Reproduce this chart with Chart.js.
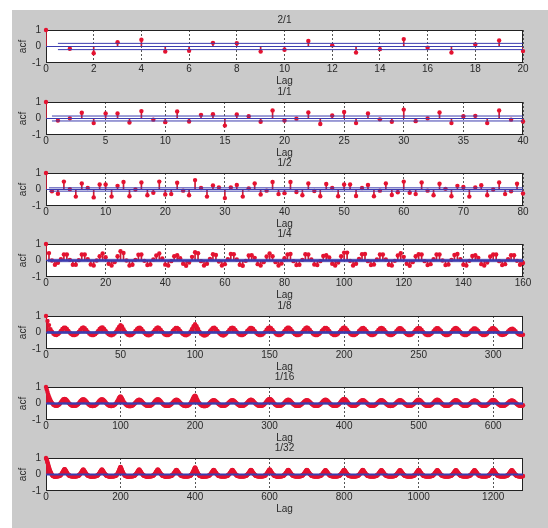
<!DOCTYPE html>
<html><head><meta charset="utf-8">
<script src="https://cdn.jsdelivr.net/npm/chart.js@4/dist/chart.umd.min.js"></script>
<style>
html,body{margin:0;padding:0;background:#fff;width:548px;height:528px;overflow:hidden;position:relative;}
#fig{position:absolute;left:12px;top:10px;width:536px;height:518px;background:#cacaca;}
canvas{position:absolute;left:0;}
</style></head><body>
<div id="fig"></div>
<script>
// ---- data (acf values in hundredths) ----
const titles = ['2/1','1/1','1/2','1/4','1/8','1/16','1/32'];
const maxLags = [20,40,80,160,320,640,1280];
const tickSteps = [2,5,10,20,50,100,200];
const confBounds = [19,15,10,7,5,4,3];

const acf_2_1 = [100,-14,-41,26,41,-31,-26,22,20,-31,-20,33,7,-37,-16,45,-7,-37,12,37,-28];

const acf_1_1 = [100,-12,1,35,-28,30,30,-24,45,-7,-22,43,-18,22,26,-43,24,14,-20,49,-12,-1,37,-33,18,39,-28,30,-5,-20,54,-16,1,37,-28,14,16,-28,49,-7,-18];

const acf_1_2 = [100,-11,-26,48,2,-43,37,9,-48,30,
30,-43,22,46,-41,0,43,-35,-20,48,
-30,-28,41,-7,-35,57,9,-43,24,13,
-52,13,28,-43,7,37,-30,-7,46,-28,
-22,46,-15,-35,37,-9,-41,33,9,-41,
30,30,-39,9,28,-41,-7,37,-33,-17,
48,-20,-28,43,-7,-35,35,4,-41,22,
15,-43,13,26,-35,0,43,-28,-11,35,
-24];

const acf_1_4 = [100,45,0,-26,-14,8,37,36,4,-26,-26,2,36,36,8,-24,-30,0,26,42,20,-20,-30,-10,26,
56,46,0,-30,-26,4,35,36,-2,-28,-24,6,30,43,12,-25,-30,-4,26,32,14,-20,-32,-12,22,
50,44,-4,-30,-20,10,38,34,-6,-30,-22,8,40,38,6,-26,-32,-2,30,32,16,-22,-30,-10,24,
42,26,-10,-30,-18,14,36,40,-4,-28,-26,4,38,36,6,-24,-28,-4,28,32,18,-20,-30,-12,26,
48,48,-2,-30,-20,10,38,40,-4,-28,-24,6,36,36,6,-26,-30,-2,30,44,22,-20,-32,-10,26,
38,36,-4,-28,-22,8,36,36,0,-28,-24,4,34,40,8,-26,-30,-2,28,32,16,-22,-30,-12,24,
36,36,-4,-28,-22,8,32,32,-2,-26,-15];

const acf_1_8 = [100,70,45,20,5,-8,-14,-15,-10,-1,10,21,29,29,21,10,-1,-10,-15,-16,-13,-6,4,16,26,
30,26,16,4,-6,-13,-16,-15,-10,-1,10,21,29,30,22,10,-1,-10,-15,-17,-13,-6,5,20,34,
45,36,20,5,-6,-14,-17,-16,-11,-2,9,20,28,29,21,10,-1,-10,-16,-17,-13,-6,4,16,26,
30,26,16,4,-6,-13,-16,-15,-10,-2,9,19,27,28,21,10,-1,-10,-15,-17,-13,-6,6,22,38,
50,38,21,5,-7,-14,-18,-17,-12,-3,8,19,28,29,21,10,-1,-11,-16,-18,-14,-6,4,16,26,
29,26,16,4,-6,-13,-16,-15,-10,-2,9,19,27,28,21,10,-1,-10,-15,-16,-13,-6,4,17,27,
30,26,16,4,-6,-13,-16,-15,-10,-1,10,21,29,29,21,10,-1,-10,-15,-16,-13,-6,4,16,26,
30,26,16,4,-6,-13,-16,-15,-10,-2,9,19,27,28,21,10,-1,-10,-15,-16,-13,-6,4,16,26,
31,26,16,4,-6,-13,-16,-15,-10,-2,9,18,26,27,20,9,-1,-10,-15,-16,-13,-6,4,15,24,
28,24,15,3,-6,-13,-16,-15,-10,-2,8,18,26,26,19,9,-2,-10,-15,-16,-13,-6,4,16,25,
28,24,15,3,-6,-13,-16,-15,-10,-2,8,18,26,26,19,9,-2,-10,-15,-16,-13,-6,3,15,24,
27,23,14,3,-6,-13,-16,-15,-10,-2,8,17,24,25,19,9,-2,-10,-15,-16,-13,-6,3,15,24,
27,23,14,3,-6,-13,-15,-14,-10,-2,7,16,22,23,17,8,-2,-10,-14,-15,-13];

const acf_1_16 = [100,85,70,55,41,30,20,11,4,-2,-7,-10,-12,-13,-14,-13,-11,-8,-4,1,7,13,19,24,26,
27,26,23,18,12,6,1,-4,-8,-11,-13,-14,-14,-14,-14,-13,-11,-8,-4,1,6,12,17,21,24,
25,24,21,17,12,6,1,-4,-8,-11,-13,-14,-15,-15,-14,-13,-11,-8,-4,1,6,12,17,21,24,
25,24,21,17,12,6,1,-4,-8,-11,-13,-14,-15,-15,-14,-13,-11,-8,-4,1,8,16,25,34,39,
42,38,30,21,12,5,0,-5,-9,-12,-14,-15,-16,-16,-15,-14,-12,-9,-5,0,5,10,15,19,22,
23,22,19,15,10,5,0,-4,-8,-11,-13,-14,-14,-14,-14,-13,-11,-8,-4,1,6,12,17,21,24,
25,24,21,17,12,6,1,-4,-8,-11,-13,-14,-14,-14,-14,-13,-11,-8,-4,0,5,10,15,19,22,
23,22,19,15,10,5,0,-4,-8,-11,-13,-14,-15,-15,-14,-13,-11,-8,-4,2,10,19,29,38,45,
48,42,32,22,13,5,0,-5,-9,-12,-14,-15,-16,-16,-15,-14,-12,-9,-5,0,4,9,13,17,19,
20,19,17,13,9,4,0,-4,-8,-11,-13,-14,-14,-14,-14,-13,-11,-8,-4,0,4,9,13,17,19,
20,19,17,13,9,4,0,-4,-8,-11,-13,-14,-14,-14,-14,-13,-11,-8,-4,0,5,10,15,19,22,
23,22,19,15,10,5,0,-4,-8,-11,-13,-14,-14,-14,-14,-13,-11,-8,-4,1,7,13,19,23,26,
27,26,23,18,12,6,1,-4,-8,-11,-13,-14,-14,-14,-14,-13,-11,-8,-4,0,5,10,15,19,22,
23,22,19,15,10,5,0,-4,-8,-11,-13,-14,-14,-14,-14,-13,-11,-8,-4,0,4,9,13,17,19,
20,19,17,13,9,4,0,-4,-8,-11,-13,-14,-14,-14,-14,-13,-11,-8,-4,0,5,10,15,19,22,
23,22,19,15,10,5,0,-4,-8,-11,-13,-14,-14,-14,-14,-13,-11,-8,-4,1,7,13,19,23,26,
27,26,23,18,12,6,1,-4,-8,-11,-13,-14,-14,-14,-14,-13,-11,-8,-4,0,4,9,13,17,19,
20,19,17,13,9,4,0,-4,-8,-11,-13,-14,-14,-14,-14,-13,-11,-8,-4,0,4,9,13,17,19,
20,19,17,13,9,4,0,-4,-8,-11,-13,-14,-15,-14,-14,-13,-11,-8,-4,0,4,9,13,17,19,
20,19,17,13,9,4,0,-4,-8,-11,-13,-14,-14,-14,-14,-13,-11,-8,-4,0,5,10,15,19,22,
23,22,19,15,10,5,0,-4,-8,-11,-13,-14,-14,-14,-14,-13,-11,-8,-4,0,5,10,15,19,22,
23,22,19,15,10,5,0,-4,-8,-11,-13,-14,-14,-14,-14,-13,-11,-8,-4,0,4,9,13,17,19,
20,19,17,13,9,4,0,-4,-8,-11,-13,-14,-14,-14,-14,-13,-11,-8,-4,0,4,8,12,15,17,
18,17,15,12,8,4,0,-4,-8,-11,-13,-14,-14,-14,-14,-13,-11,-8,-4,0,4,9,14,18,20,
21,20,18,14,9,4,0,-4,-8,-11,-13,-14,-14,-14,-14,-13,-11,-8,-4,0,4,8,12,15,17,
18,17,15,12,8,4,0,-4,-8,-11,-13,-14,-14,-14,-13,-11];

const acf_1_32 = [
100,95,90,82,74,66,58,50,42,35,28,22,16,11,6,2,-2,-5,-7,-9,-10,-11,-11,-12,-12,-11,-11,-11,-11,-11,-11,-11,-10,-10,-10,-9,-8,-7,-6,-4,-2,1,4,7,11,15,19,23,27,30,
32,30,27,23,19,15,11,7,4,1,-2,-4,-6,-7,-8,-9,-10,-10,-10,-11,-11,-11,-11,-11,-11,-11,-11,-11,-11,-11,-11,-11,-10,-10,-10,-9,-8,-7,-6,-4,-2,1,4,7,10,14,17,21,25,28,
30,28,25,21,17,14,10,7,4,1,-2,-4,-6,-7,-8,-9,-10,-10,-11,-11,-11,-12,-12,-11,-11,-11,-11,-11,-11,-11,-11,-11,-10,-10,-10,-9,-8,-7,-6,-4,-2,1,4,7,10,14,17,21,25,28,
30,28,25,21,17,14,10,7,4,1,-2,-4,-6,-7,-8,-9,-10,-10,-11,-11,-11,-12,-12,-11,-11,-11,-11,-11,-11,-11,-11,-11,-10,-10,-10,-9,-8,-7,-6,-4,-2,1,5,9,14,19,25,31,37,42,
46,42,37,31,25,19,14,9,5,1,-2,-5,-7,-8,-9,-10,-10,-11,-11,-11,-12,-12,-12,-11,-11,-11,-11,-11,-11,-11,-11,-11,-10,-10,-10,-9,-8,-7,-6,-4,-2,1,4,7,10,14,17,21,25,28,
30,28,25,21,17,14,10,7,4,1,-2,-4,-6,-7,-8,-9,-10,-10,-11,-11,-11,-12,-12,-11,-11,-11,-11,-11,-11,-11,-11,-11,-10,-10,-10,-9,-8,-7,-6,-4,-2,1,4,7,10,14,17,21,25,28,
30,28,25,21,17,14,10,7,4,1,-2,-4,-6,-7,-8,-9,-10,-10,-11,-11,-11,-12,-12,-11,-11,-11,-11,-11,-11,-11,-11,-11,-10,-10,-10,-9,-8,-7,-6,-4,-2,1,3,6,9,13,16,20,23,26,
28,26,23,20,16,13,9,6,3,1,-2,-4,-6,-7,-8,-9,-10,-10,-10,-11,-11,-11,-11,-11,-11,-11,-11,-11,-11,-11,-11,-11,-10,-10,-10,-9,-8,-7,-6,-4,-2,1,5,9,13,18,23,28,34,39,
42,39,34,28,23,18,13,9,5,1,-2,-5,-7,-8,-9,-10,-10,-11,-11,-11,-12,-12,-12,-11,-11,-11,-11,-11,-11,-11,-11,-11,-10,-10,-10,-9,-8,-7,-6,-4,-2,1,3,6,9,13,16,20,23,26,
28,26,23,20,16,13,9,6,3,1,-2,-4,-6,-7,-8,-9,-10,-10,-10,-11,-11,-11,-11,-11,-11,-11,-11,-11,-11,-11,-11,-11,-10,-10,-10,-9,-8,-7,-6,-4,-2,1,3,6,9,13,16,20,23,26,
28,26,23,20,16,13,9,6,3,1,-2,-4,-6,-7,-8,-9,-10,-10,-10,-11,-11,-11,-11,-11,-11,-11,-11,-11,-11,-11,-11,-11,-10,-10,-10,-9,-8,-7,-6,-4,-2,1,3,6,9,13,16,20,23,26,
28,26,23,20,16,13,9,6,3,1,-2,-4,-6,-7,-8,-9,-10,-10,-10,-11,-11,-11,-11,-11,-11,-11,-11,-11,-11,-11,-11,-11,-10,-10,-10,-9,-8,-7,-6,-4,-2,1,4,7,10,14,17,21,25,28,
30,28,25,21,17,14,10,7,4,1,-2,-4,-6,-7,-8,-9,-10,-10,-11,-11,-11,-12,-12,-11,-11,-11,-11,-11,-11,-11,-11,-11,-10,-10,-10,-9,-8,-7,-6,-4,-2,1,3,6,9,13,16,20,23,26,
28,26,23,20,16,13,9,6,3,1,-2,-4,-6,-7,-8,-9,-10,-10,-10,-11,-11,-11,-11,-11,-11,-11,-11,-11,-11,-11,-11,-11,-10,-10,-10,-9,-8,-7,-6,-4,-2,1,3,6,9,13,16,20,23,26,
28,26,23,20,16,13,9,6,3,1,-2,-4,-6,-7,-8,-9,-10,-10,-10,-11,-11,-11,-11,-11,-11,-11,-11,-11,-11,-11,-11,-11,-10,-10,-10,-9,-8,-7,-6,-4,-2,0,3,6,9,12,15,19,22,24,
26,24,22,19,15,12,9,6,3,0,-2,-4,-6,-7,-8,-9,-10,-10,-10,-11,-11,-11,-11,-11,-11,-11,-11,-11,-11,-11,-11,-11,-10,-10,-10,-9,-8,-7,-6,-4,-2,1,3,6,9,13,16,20,23,26,
28,26,23,20,16,13,9,6,3,1,-2,-4,-6,-7,-8,-9,-10,-10,-10,-11,-11,-11,-11,-11,-11,-11,-11,-11,-11,-11,-11,-11,-10,-10,-10,-9,-8,-7,-6,-4,-2,1,3,6,9,13,16,20,23,26,
28,26,23,20,16,13,9,6,3,1,-2,-4,-6,-7,-8,-9,-10,-10,-10,-11,-11,-11,-11,-11,-11,-11,-11,-11,-11,-11,-11,-11,-10,-10,-10,-9,-8,-7,-6,-4,-2,0,3,6,9,12,15,19,22,24,
26,24,22,19,15,12,9,6,3,0,-2,-4,-6,-7,-8,-9,-10,-10,-10,-11,-11,-11,-11,-11,-11,-11,-11,-11,-11,-11,-11,-11,-10,-10,-10,-9,-8,-7,-6,-4,-2,0,3,6,9,12,15,19,22,24,
26,24,22,19,15,12,9,6,3,0,-2,-4,-6,-7,-8,-9,-10,-10,-10,-11,-11,-11,-11,-11,-11,-11,-11,-11,-11,-11,-11,-11,-10,-10,-10,-9,-8,-7,-6,-4,-2,1,3,6,9,13,16,20,23,26,
28,26,23,20,16,13,9,6,3,1,-2,-4,-6,-7,-8,-9,-10,-10,-10,-11,-11,-11,-11,-11,-11,-11,-11,-11,-11,-11,-11,-11,-10,-10,-10,-9,-8,-7,-6,-4,-2,0,3,6,9,12,15,19,22,24,
26,24,22,19,15,12,9,6,3,0,-2,-4,-6,-7,-8,-9,-10,-10,-10,-11,-11,-11,-11,-11,-11,-11,-11,-11,-11,-11,-11,-11,-10,-10,-10,-9,-8,-7,-6,-4,-2,0,3,6,9,12,15,19,22,24,
26,24,22,19,15,12,9,6,3,0,-2,-4,-6,-7,-8,-9,-10,-10,-10,-11,-11,-11,-11,-11,-11,-11,-11,-11,-11,-11,-11,-11,-10,-10,-10,-9,-8,-7,-6,-4,-2,0,3,6,9,12,15,19,22,24,
26,24,22,19,15,12,9,6,3,0,-2,-4,-6,-7,-8,-9,-10,-10,-10,-11,-11,-11,-11,-11,-11,-11,-11,-11,-11,-11,-11,-11,-10,-10,-10,-9,-8,-7,-6,-4,-2,1,3,6,9,13,16,20,23,26,
28,26,23,20,16,13,9,6,3,1,-2,-4,-6,-7,-8,-9,-10,-10,-10,-11,-11,-11,-11,-11,-11,-11,-11,-11,-11,-11,-11,-11,-10,-10,-10,-9,-8,-7,-6,-4,-2,0,3,6,9,12,15,19,22,24,
26,24,22,19,15,12,9,6,3,0,-2,-4,-6,-7,-8,-9,-10,-10,-10,-11,-11,-11,-11,-11,-11,-11,-11,-11,-11,-10,-9];

const series = [acf_2_1, acf_1_1, acf_1_2, acf_1_4, acf_1_8, acf_1_16, acf_1_32];

// ---- layout / style ----
const plotTops = [30,102,173,244,316,387,458];
const TITLE_H = 22, PLOT_H = 33, XAX_H = 24, YAX_W = 46, PLOT_RIGHT = 523, W = 548;
const FONT = {family:'"Liberation Sans", Arial, sans-serif', size:10};
const TXT = '#2a2a2a';
const MARK = 'rgb(228,18,48)';
const STEM = 'rgb(205,25,50)';
const BLUE = 'rgb(60,60,175)';

const areaPlugin = {
  id:'area',
  beforeDraw(chart){
    const a = chart.chartArea, ctx = chart.ctx;
    ctx.save(); ctx.fillStyle = '#ffffff';
    ctx.fillRect(a.left, a.top, a.right-a.left, a.bottom-a.top);
    ctx.restore();
  },
  beforeDatasetsDraw(chart){
    const a = chart.chartArea, ctx = chart.ctx;
    ctx.save(); ctx.strokeStyle = '#222'; ctx.lineWidth = 1;
    ctx.strokeRect(Math.round(a.left)+0.5, Math.round(a.top)+0.5, Math.round(a.right-a.left)-1, Math.round(a.bottom-a.top)-1);
    ctx.restore();
  }
};

Chart.defaults.font.family = FONT.family;

series.forEach((vals, i) => {
  const c = document.createElement('canvas');
  c.width = W; c.height = TITLE_H + PLOT_H + XAX_H;
  c.style.width = W+'px'; c.style.height = c.height+'px';
  c.style.top = (plotTops[i] - TITLE_H) + 'px';
  document.body.appendChild(c);
  const N = maxLags[i];
  const b = confBounds[i]/100;
  const pts = vals.map((v,k) => ({x:k, y:v/100}));
  const line = (d) => ({type:'line', data:d, borderColor:BLUE, borderWidth:1, pointRadius:0, fill:false, order:0, clip:false});
  new Chart(c, {
    type:'bar',
    data:{datasets:[
      line([{x:0,y:0},{x:N,y:0}]),
      line([{x:0.5,y:b},{x:N,y:b}]),
      line([{x:0.5,y:-b},{x:N,y:-b}]),
      {type:'scatter', data:pts, backgroundColor:MARK, borderColor:MARK, borderWidth:0, pointRadius:2.2, order:1, clip:false},
      {type:'bar', data:pts, backgroundColor:STEM, borderWidth:0, barThickness:1, order:2}
    ]},
    options:{
      responsive:false, animation:false, devicePixelRatio:1, events:[],
      layout:{padding:{top:0,left:0,right:W-PLOT_RIGHT,bottom:0}},
      plugins:{
        legend:{display:false}, tooltip:{enabled:false},
        title:{display:true, text:titles[i], fullSize:false, color:TXT, font:{...FONT, weight:'normal'}, padding:{top:6,bottom:4}}
      },
      scales:{
        x:{type:'linear', min:0, max:N, offset:false,
           ticks:{stepSize:tickSteps[i], includeBounds:false, autoSkip:false, maxRotation:0, padding:0, color:TXT, font:FONT, callback:v=>String(v)},
           grid:{drawTicks:false, offset:false, color:'#555', lineWidth:1},
           border:{display:false, dash:[2,2]},
           title:{display:true, text:'Lag', color:TXT, font:FONT, padding:{top:0,bottom:0}},
           afterFit:s=>{s.height = XAX_H;}},
        y:{min:-1, max:1,
           ticks:{stepSize:1, padding:5, color:TXT, font:FONT, callback:v=>String(v)},
           grid:{display:false, drawTicks:false},
           border:{display:false},
           title:{display:true, text:'acf', color:TXT, font:FONT, padding:{top:17,bottom:0}},
           afterFit:s=>{s.width = YAX_W;}}
      }
    },
    plugins:[areaPlugin]
  });
});
</script>
</body></html>
